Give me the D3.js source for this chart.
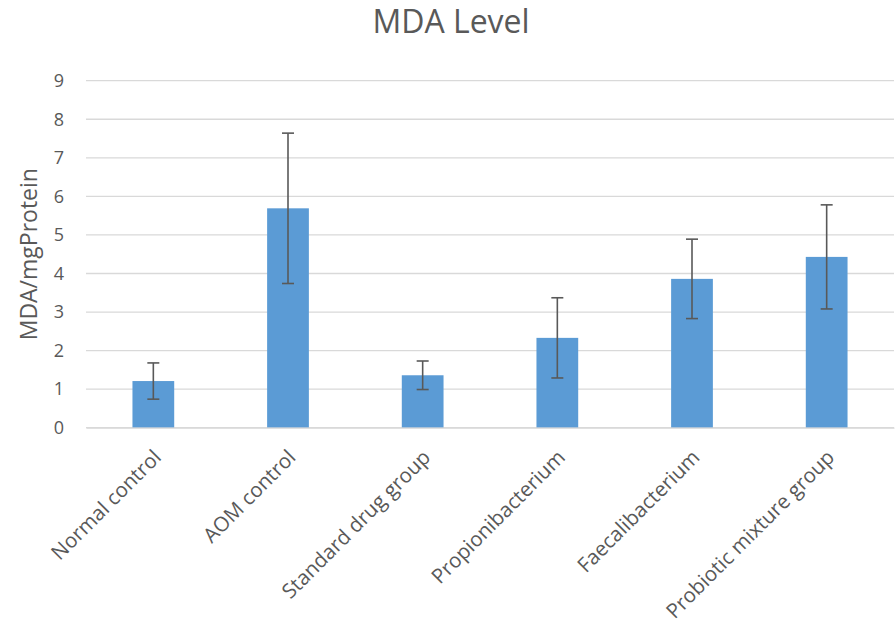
<!DOCTYPE html>
<html><head><meta charset="utf-8">
<script src="https://cdn.jsdelivr.net/npm/d3@7"></script>
<style>body{margin:0;background:#fff;}svg{display:block;font-family:"Open Sans",sans-serif;}</style>
</head><body>
<svg id="c" width="896" height="625"></svg>
<script>
const categories = ["Normal control","AOM control","Standard drug group","Propionibacterium","Faecalibacterium","Probiotic mixture group"];
const values = [1.21, 5.69, 1.36, 2.33, 3.86, 4.43];
const errors = [0.47, 1.95, 0.37, 1.04, 1.03, 1.35];
const yTicks = [0,1,2,3,4,5,6,7,8,9];
const title = "MDA Level";
const yTitle = "MDA/mgProtein";

const svg = d3.select("#c");
const m = {l:86, r:2, t:80.7, b:197.3};
const W = 896, H = 625;
const x = d3.scaleBand().domain(categories).range([m.l, W-m.r]).paddingInner(0.69).paddingOuter(0.345);
const y = d3.scaleLinear().domain([0,9]).range([H-m.b, m.t]);
const grey = "#595959";

svg.append("g").selectAll("line").data(yTicks).join("line")
  .attr("x1", m.l).attr("x2", W-m.r)
  .attr("y1", d=>y(d)).attr("y2", d=>y(d))
  .attr("stroke", "#d9d9d9").attr("stroke-width", 1.3);

const yAxis = svg.append("g").attr("transform", `translate(${m.l},0)`)
  .call(d3.axisLeft(y).tickValues(yTicks).tickSize(0).tickPadding(22));
yAxis.select(".domain").remove();
yAxis.selectAll("text").attr("fill", grey).style("font-size","18px").style("font-family","'Open Sans',sans-serif");

svg.append("g").selectAll("rect").data(categories).join("rect")
  .attr("x", d=>x(d)).attr("width", x.bandwidth())
  .attr("y", (d,i)=>y(values[i])).attr("height", (d,i)=>y(0)-y(values[i]))
  .attr("fill", "#5b9bd5");

const eb = svg.append("g").attr("stroke", grey).attr("stroke-width", 1.6);
categories.forEach((c,i)=>{
  const cx = x(c)+x.bandwidth()/2;
  const hi = y(values[i]+errors[i]), lo = y(values[i]-errors[i]);
  eb.append("line").attr("x1",cx).attr("x2",cx).attr("y1",hi).attr("y2",lo);
  eb.append("line").attr("x1",cx-6).attr("x2",cx+6).attr("y1",hi).attr("y2",hi);
  eb.append("line").attr("x1",cx-6).attr("x2",cx+6).attr("y1",lo).attr("y2",lo);
});

const xAxis = svg.append("g").attr("transform", `translate(0,${y(0)})`)
  .call(d3.axisBottom(x).tickSize(0).tickFormat(""));
xAxis.select(".domain").attr("stroke","#d9d9d9").attr("stroke-width",1.3);

svg.append("g").selectAll("text").data(categories).join("text")
  .attr("transform", d=>`translate(${x(d)+x.bandwidth()/2+9},${y(0)+31}) rotate(-45)`)
  .attr("text-anchor","end")
  .attr("fill", grey).style("font-size","20.5px").text(d=>d);

svg.append("text").attr("x", 451).attr("y", 33).attr("text-anchor","middle")
  .attr("fill", grey).style("font-size","32px").text(title);

svg.append("text").attr("transform", `translate(37,${(y(0)+y(9))/2}) rotate(-90)`)
  .attr("text-anchor","middle").attr("fill", grey).style("font-size","23px").text(yTitle);
</script>
</body></html>
